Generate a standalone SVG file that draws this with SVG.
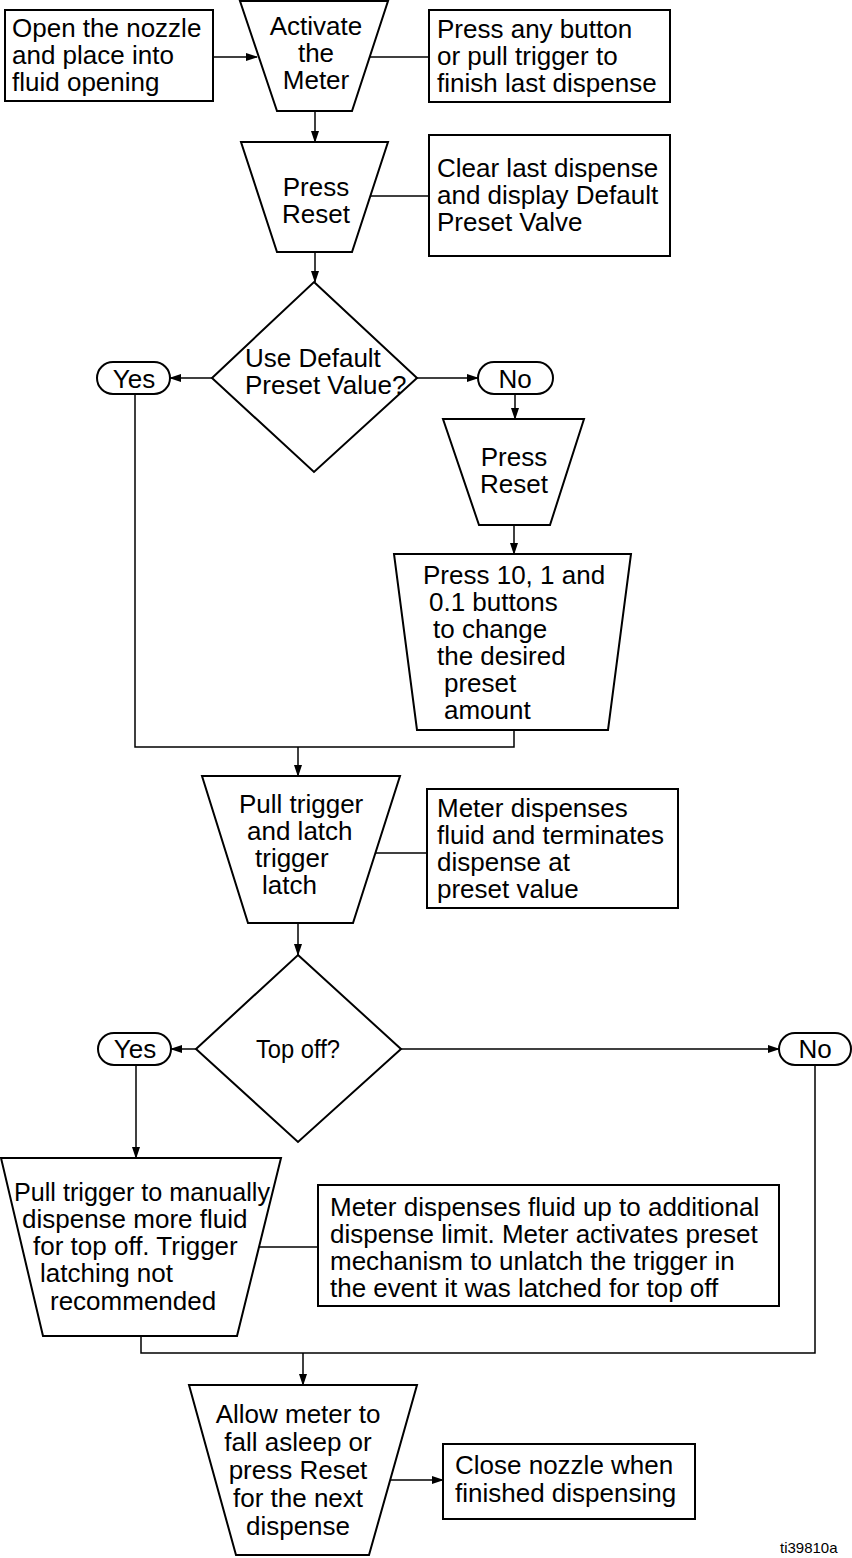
<svg xmlns="http://www.w3.org/2000/svg" width="852" height="1558" viewBox="0 0 852 1558">
<style>
.s{fill:#fff;stroke:#000;stroke-width:2;stroke-linejoin:miter}
.c{fill:none;stroke:#000;stroke-width:1.5}
text{font-family:"Liberation Sans",Arial,sans-serif;font-size:26px;fill:#000}
.m{text-anchor:middle}
.id{font-size:15px}
</style>
<defs>
<marker id="ah" markerWidth="12" markerHeight="8" refX="11" refY="4" orient="auto" markerUnits="userSpaceOnUse">
<path d="M0,0 L12,4 L0,8 Z" fill="#000"/>
</marker>
</defs>
<g id="connectors">
<line class="c" x1="213" y1="57" x2="257" y2="57" marker-end="url(#ah)"/>
<line class="c" x1="369" y1="57" x2="429" y2="57"/>
<line class="c" x1="315" y1="111" x2="315" y2="142" marker-end="url(#ah)"/>
<line class="c" x1="370" y1="196" x2="429" y2="196"/>
<line class="c" x1="315" y1="252" x2="315" y2="282" marker-end="url(#ah)"/>
<line class="c" x1="212" y1="378" x2="170" y2="378" marker-end="url(#ah)"/>
<line class="c" x1="417" y1="378" x2="478" y2="378" marker-end="url(#ah)"/>
<line class="c" x1="515" y1="394" x2="515" y2="419" marker-end="url(#ah)"/>
<line class="c" x1="514" y1="525" x2="514" y2="554" marker-end="url(#ah)"/>
<polyline class="c" points="135,394 135,747 514,747 514,730"/>
<line class="c" x1="298" y1="747" x2="298" y2="776" marker-end="url(#ah)"/>
<line class="c" x1="375" y1="853" x2="427" y2="853"/>
<line class="c" x1="298" y1="923" x2="298" y2="955" marker-end="url(#ah)"/>
<line class="c" x1="196" y1="1049" x2="171" y2="1049" marker-end="url(#ah)"/>
<line class="c" x1="401" y1="1049" x2="779" y2="1049" marker-end="url(#ah)"/>
<line class="c" x1="136" y1="1065" x2="136" y2="1158" marker-end="url(#ah)"/>
<polyline class="c" points="815,1065 815,1353 141,1353 141,1336"/>
<line class="c" x1="259" y1="1247" x2="318" y2="1247"/>
<line class="c" x1="303" y1="1353" x2="303" y2="1385" marker-end="url(#ah)"/>
<line class="c" x1="390" y1="1480" x2="443" y2="1480" marker-end="url(#ah)"/>
</g>
<g id="open-nozzle">
<rect class="s" x="5" y="10" width="208" height="91"/>
<text x="12" y="37">Open the nozzle</text>
<text x="12" y="64">and place into</text>
<text x="12" y="91">fluid opening</text>
</g>
<g id="activate">
<polygon class="s" points="240,1 388,1 352,111 277,111"/>
<text class="m" x="316" y="35">Activate</text>
<text class="m" x="316" y="62">the</text>
<text class="m" x="316" y="89">Meter</text>
</g>
<g id="press-any">
<rect class="s" x="429" y="10" width="241" height="92"/>
<text x="437" y="38">Press any button</text>
<text x="437" y="65">or pull trigger to</text>
<text x="437" y="92">finish last dispense</text>
</g>
<g id="press-reset-1">
<polygon class="s" points="241,142 388,142 352,252 277,252"/>
<text class="m" x="316" y="196">Press</text>
<text class="m" x="316" y="223">Reset</text>
</g>
<g id="clear-last">
<rect class="s" x="429" y="135" width="241" height="121"/>
<text x="437" y="177">Clear last dispense</text>
<text x="437" y="204">and display Default</text>
<text x="437" y="231">Preset Valve</text>
</g>
<g id="use-default">
<polygon class="s" points="314,282 417,378 314,472 212,378"/>
<text x="245" y="367">Use Default</text>
<text x="245" y="394">Preset Value?</text>
</g>
<g id="yes-1">
<rect class="s" x="97" y="362" width="73" height="32" rx="16"/>
<text class="m" x="134" y="388">Yes</text>
</g>
<g id="no-1">
<rect class="s" x="478" y="362" width="75" height="32" rx="16"/>
<text class="m" x="515" y="388">No</text>
</g>
<g id="press-reset-2">
<polygon class="s" points="443,419 584,419 550,525 479,525"/>
<text class="m" x="514" y="466">Press</text>
<text class="m" x="514" y="493">Reset</text>
</g>
<g id="press-buttons">
<polygon class="s" points="394,554 631,554 608,730 417,730"/>
<text x="423" y="584">Press 10, 1 and</text>
<text x="429" y="611">0.1 buttons</text>
<text x="433" y="638">to change</text>
<text x="437" y="665">the desired</text>
<text x="444" y="692">preset</text>
<text x="444" y="719">amount</text>
</g>
<g id="pull-latch">
<polygon class="s" points="202,776 400,776 353,923 248,923"/>
<text x="239" y="813">Pull trigger</text>
<text x="247" y="840">and latch</text>
<text x="255" y="867">trigger</text>
<text x="262" y="894">latch</text>
</g>
<g id="meter-dispenses">
<rect class="s" x="427" y="789" width="251" height="119"/>
<text x="437" y="817">Meter dispenses</text>
<text x="437" y="844">fluid and terminates</text>
<text x="437" y="871">dispense at</text>
<text x="437" y="898">preset value</text>
</g>
<g id="top-off">
<polygon class="s" points="298,955 401,1049 298,1142 196,1049"/>
<text class="m" x="298" y="1058" textLength="84" lengthAdjust="spacingAndGlyphs">Top off?</text>
</g>
<g id="yes-2">
<rect class="s" x="98" y="1033" width="73" height="32" rx="16"/>
<text class="m" x="135" y="1058">Yes</text>
</g>
<g id="no-2">
<rect class="s" x="779" y="1033" width="72" height="32" rx="16"/>
<text class="m" x="815" y="1058">No</text>
</g>
<g id="pull-manual">
<polygon class="s" points="1,1158 281,1158 237,1336 43,1336"/>
<text x="14" y="1201" textLength="256" lengthAdjust="spacingAndGlyphs">Pull trigger to manually</text>
<text x="22" y="1228">dispense more fluid</text>
<text x="33" y="1255">for top off. Trigger</text>
<text x="40" y="1282">latching not</text>
<text x="50" y="1310">recommended</text>
</g>
<g id="meter-additional">
<rect class="s" x="318" y="1185" width="461" height="121"/>
<text x="330" y="1216">Meter dispenses fluid up to additional</text>
<text x="330" y="1243">dispense limit. Meter activates preset</text>
<text x="330" y="1270">mechanism to unlatch the trigger in</text>
<text x="330" y="1297">the event it was latched for top off</text>
</g>
<g id="allow-sleep">
<polygon class="s" points="189,1385 417,1385 369,1555 236,1555"/>
<text class="m" x="298" y="1423">Allow meter to</text>
<text class="m" x="298" y="1451">fall asleep or</text>
<text class="m" x="298" y="1479">press Reset</text>
<text class="m" x="298" y="1507">for the next</text>
<text class="m" x="298" y="1535">dispense</text>
</g>
<g id="close-nozzle">
<rect class="s" x="443" y="1444" width="252" height="75"/>
<text x="455" y="1474">Close nozzle when</text>
<text x="455" y="1502">finished dispensing</text>
</g>
<text class="id" x="780" y="1553">ti39810a</text>
</svg>
